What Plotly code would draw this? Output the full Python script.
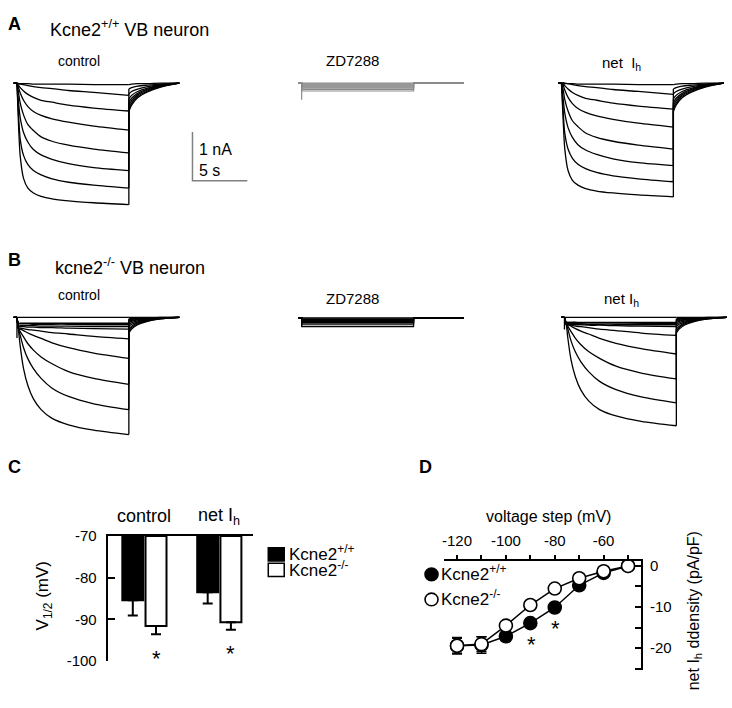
import plotly.graph_objects as go

W, H = 732, 708
FONT = "Liberation Sans, Arial, Helvetica, sans-serif"

# ---------------- Panels A / B : current traces (nA vs s) ----------------
T_PRE = -0.3
T_STEP = [0, 0.15, 0.3, 0.6, 1.0, 1.5, 2.2, 3.2, 4.7, 7.0, 10.2]
T_TAIL = [10.2, 10.45, 11.0, 11.9, 13.1, 14.8]

A_CTRL_STEP = [
    [0, -0.01, -0.01, -0.01, -0.01, -0.02, -0.02, -0.02, -0.02, -0.03, -0.03],
    [0, -0.01, -0.02, -0.03, -0.05, -0.07, -0.09, -0.11, -0.15, -0.19, -0.25],
    [0, -0.05, -0.09, -0.16, -0.23, -0.29, -0.35, -0.39, -0.45, -0.51, -0.57],
    [0, -0.10, -0.20, -0.35, -0.48, -0.58, -0.66, -0.73, -0.80, -0.88, -0.96],
    [0, -0.21, -0.41, -0.65, -0.85, -0.97, -1.10, -1.19, -1.27, -1.35, -1.43],
    [0, -0.41, -0.71, -1.01, -1.21, -1.36, -1.47, -1.56, -1.65, -1.73, -1.79],
    [0, -0.68, -1.15, -1.48, -1.67, -1.79, -1.88, -1.96, -2.03, -2.09, -2.15],
    [0, -0.90, -1.50, -1.95, -2.15, -2.25, -2.32, -2.37, -2.41, -2.45, -2.49],
]
A_CTRL_TAIL = [
    [-0.03, -0.02, -0.01, -0.01, 0.00, 0],
    [-0.12, -0.09, -0.06, -0.04, -0.02, 0],
    [-0.22, -0.17, -0.12, -0.07, -0.03, 0],
    [-0.32, -0.25, -0.17, -0.10, -0.04, 0],
    [-0.40, -0.31, -0.21, -0.12, -0.05, 0],
    [-0.46, -0.36, -0.24, -0.14, -0.06, 0],
    [-0.52, -0.41, -0.27, -0.16, -0.07, 0],
    [-0.58, -0.45, -0.30, -0.18, -0.08, 0],
]
A_ZD = [0, -0.02, -0.04, -0.06, -0.08, -0.10, -0.13, -0.16]
A_ZD_SPIKE = -0.34

B_CTRL_STEP = [
    [0, 0, 0, 0, 0, 0, 0, 0, 0, 0, 0],
    [0, -0.12, -0.12, -0.12, -0.12, -0.12, -0.12, -0.12, -0.12, -0.12, -0.12],
    [0, -0.13, -0.13, -0.13, -0.13, -0.14, -0.14, -0.14, -0.14, -0.15, -0.15],
    [0, -0.17, -0.17, -0.17, -0.17, -0.17, -0.18, -0.18, -0.18, -0.19, -0.19],
    [0, -0.19, -0.19, -0.19, -0.20, -0.20, -0.21, -0.21, -0.22, -0.23, -0.24],
    [0, -0.22, -0.22, -0.23, -0.25, -0.26, -0.28, -0.31, -0.34, -0.39, -0.44],
    [0, -0.23, -0.24, -0.27, -0.32, -0.37, -0.43, -0.52, -0.62, -0.73, -0.84],
    [0, -0.23, -0.29, -0.40, -0.54, -0.67, -0.81, -0.95, -1.11, -1.25, -1.37],
    [0, -0.25, -0.37, -0.62, -0.85, -1.05, -1.25, -1.45, -1.62, -1.77, -1.89],
    [0, -0.29, -0.59, -1.05, -1.40, -1.67, -1.89, -2.07, -2.20, -2.31, -2.40],
]
B_CTRL_TAIL = [
    [0, 0, 0, 0, 0, 0],
    [-0.03, -0.02, -0.02, -0.01, 0.00, 0],
    [-0.05, -0.04, -0.03, -0.02, -0.01, 0],
    [-0.08, -0.06, -0.04, -0.02, -0.01, 0],
    [-0.11, -0.08, -0.05, -0.03, -0.01, 0],
    [-0.15, -0.11, -0.07, -0.04, -0.01, 0],
    [-0.19, -0.14, -0.09, -0.05, -0.02, 0],
    [-0.24, -0.18, -0.11, -0.06, -0.02, 0],
    [-0.28, -0.21, -0.13, -0.07, -0.03, 0],
    [-0.32, -0.24, -0.15, -0.08, -0.03, 0],
]
B_ZD = [0, -0.02, -0.03, -0.04, -0.05, -0.07, -0.09, -0.11, -0.14, -0.18]
B_CTRL_SPIKE = -0.42
B_ZD_SPIKE = -0.17

SCALE_T0, SCALE_I0 = 16.0, -1.0   # scale bar corner (s, nA)
SCALE_NA, SCALE_S = 1.0, 5.0

# ---------------- Panel C : V1/2 ----------------
C_GROUPS = ["control", "net I<sub>h</sub>"]
C_BASE = -70
C_TICKS = [-100, -90, -80, -70]
C_WT_MEAN = [-85.4, -83.5]
C_WT_SEM = [3.7, 2.7]
C_KO_MEAN = [-91.6, -90.7]
C_KO_SEM = [2.0, 1.8]

# ---------------- Panel D : density vs voltage ----------------
V_STEPS = [-120, -110, -100, -90, -80, -70, -60, -50]
WT_MEAN = [-19.4, -19.2, -17.1, -13.9, -10.1, -4.7, -1.7, 0.0]
WT_SEM = [2.0, 2.0, 1.0, 0.7, 0.6, 0.5, 0.4, 0.3]
KO_MEAN = [-19.4, -19.0, -14.5, -9.5, -5.5, -3.0, -1.3, 0.0]
KO_SEM = [1.8, 1.8, 0.9, 0.8, 0.6, 0.5, 0.4, 0.3]
SIG_V = [-90, -80]

# ------------------------------------------------------------------
PX_S, PX_NA = 11.0, 50.0
T_MIN, T_MAX, I_MIN, I_MAX = -0.6, 15.2, -2.7, 0.2


def xd(p0, p1):
    return [p0 / W, p1 / W]


def yd(top, bot):
    return [1 - bot / H, 1 - top / H]


def trace_dom(ox, oy, tmax=T_MAX):
    return (xd(ox + T_MIN * PX_S, ox + tmax * PX_S),
            yd(oy - I_MAX * PX_NA, oy - I_MIN * PX_NA))


fig = go.Figure()
LW = 1.3


def add_sweeps(step_rows, tail_rows, ax, color="black", spike=None):
    xs, ys, xt, yt, xc, yc = [], [], [], [], [], []
    for st, tl in zip(step_rows, tail_rows):
        xs += T_STEP + [None]
        ys += list(st) + [None]
        xt += T_TAIL + [None]
        yt += list(tl) + [None]
        xc += [T_PRE, T_STEP[0], None, T_STEP[-1], T_TAIL[0], None]
        yc += [0, 0, None, st[-1], tl[0], None]
    if spike is not None:
        xc += [T_STEP[0], T_STEP[0], None]
        yc += [0, spike, None]
    common = dict(xaxis="x" + ax, yaxis="y" + ax, mode="lines",
                  hoverinfo="skip", showlegend=False)
    fig.add_trace(go.Scatter(x=xs, y=ys, line=dict(color=color, width=LW, shape="spline", smoothing=0.8), **common))
    fig.add_trace(go.Scatter(x=xt, y=yt, line=dict(color=color, width=LW, shape="spline", smoothing=0.8), **common))
    fig.add_trace(go.Scatter(x=xc, y=yc, line=dict(color=color, width=LW), **common))


def add_zd(levels, ax, color, spike):
    xs, ys = [], []
    for lv in levels:
        xs += [T_PRE, T_STEP[0], T_STEP[0], T_STEP[-1], T_STEP[-1], T_TAIL[-1], None]
        ys += [0, 0, lv, lv, 0, 0, None]
    xs += [T_STEP[0], T_STEP[0], None]
    ys += [0, spike, None]
    fig.add_trace(go.Scatter(x=xs, y=ys, xaxis="x" + ax, yaxis="y" + ax, mode="lines",
                             line=dict(color=color, width=1.2), hoverinfo="skip", showlegend=False))


def net_rows(ctrl, zd):
    return [[row[0]] + [v - z for v in row[1:]] for row, z in zip(ctrl, zd)]


# A
add_sweeps(A_CTRL_STEP, A_CTRL_TAIL, "")
add_zd(A_ZD, "2", "#8a8a8a", A_ZD_SPIKE)
add_sweeps(net_rows(A_CTRL_STEP, A_ZD), A_CTRL_TAIL, "3")
# B
add_sweeps(B_CTRL_STEP, B_CTRL_TAIL, "4", spike=B_CTRL_SPIKE)
add_zd(B_ZD, "5", "black", B_ZD_SPIKE)
add_sweeps(net_rows(B_CTRL_STEP, B_ZD), B_CTRL_TAIL, "6", spike=B_CTRL_SPIKE - B_ZD_SPIKE)

# scale bar (in panel A control units)
fig.add_trace(go.Scatter(
    x=[SCALE_T0, SCALE_T0, SCALE_T0 + SCALE_S],
    y=[SCALE_I0, SCALE_I0 - SCALE_NA, SCALE_I0 - SCALE_NA],
    xaxis="x", yaxis="y", mode="lines", line=dict(color="#808080", width=1.5),
    hoverinfo="skip", showlegend=False))

# C bars
OFF, BW = 0.155, 0.28
cx = list(range(len(C_GROUPS)))
for means, sems, fill, sgn in [(C_WT_MEAN, C_WT_SEM, "black", -1), (C_KO_MEAN, C_KO_SEM, "white", 1)]:
    xx = [i + sgn * OFF for i in cx]
    fig.add_trace(go.Bar(x=xx, y=[m - C_BASE for m in means], base=C_BASE, width=BW,
                         marker=dict(color=fill, line=dict(color="black", width=2)),
                         xaxis="x7", yaxis="y7", showlegend=False, hoverinfo="skip"))
    fig.add_trace(go.Scatter(x=xx, y=means, mode="markers", marker=dict(size=1, color="rgba(0,0,0,0)"),
                             error_y=dict(type="data", symmetric=False, array=[0] * len(sems), arrayminus=sems,
                                          color="black", thickness=2, width=5),
                             xaxis="x7", yaxis="y7", showlegend=False, hoverinfo="skip", cliponaxis=False))

# D lines
for means, sems, fill in [(WT_MEAN, WT_SEM, "black"), (KO_MEAN, KO_SEM, "white")]:
    fig.add_trace(go.Scatter(x=V_STEPS, y=means, mode="lines+markers",
                             line=dict(color="black", width=1.5),
                             marker=dict(size=13, color=fill, line=dict(color="black", width=1.6)),
                             error_y=dict(type="data", array=sems, color="black", thickness=1.5, width=5),
                             xaxis="x8", yaxis="y8", showlegend=False, hoverinfo="skip", cliponaxis=False))

# ------------------------------------------------------------------
hidden = dict(visible=False, fixedrange=True)
layout_axes = {}
panels = [
    ("", 15, 76, 22.0), ("2", 300.5, 76, T_MAX), ("3", 561, 76, T_MAX),
    ("4", 15, 316, T_MAX), ("5", 300.5, 316.5, T_MAX), ("6", 564, 316, T_MAX),
]
for ax, ox, oy, tmax in panels:
    xdm, ydm = trace_dom(ox, oy, tmax)
    n = ax if ax else ""
    layout_axes["xaxis" + n] = dict(domain=xdm, range=[T_MIN, tmax], anchor="y" + n, **hidden)
    layout_axes["yaxis" + n] = dict(domain=ydm, range=[I_MIN, I_MAX], anchor="x" + n, **hidden)

tickfont = dict(family=FONT, size=15, color="black")
layout_axes["xaxis7"] = dict(domain=xd(106, 251.7), range=[-0.49, 1.45], anchor="y7", side="top",
                             showline=True, linewidth=2, linecolor="black", ticks="", showticklabels=False,
                             showgrid=False, zeroline=False, fixedrange=True)
layout_axes["yaxis7"] = dict(domain=yd(540, 668), range=[-100, -70], anchor="x7",
                             tickvals=C_TICKS, ticktext=[str(v) for v in C_TICKS],
                             ticks="inside", ticklen=7, tickwidth=2,
                             tickcolor="black", showline=True, linewidth=2, linecolor="black",
                             showgrid=False, zeroline=False, tickfont=tickfont, ticklabelstandoff=6,
                             fixedrange=True)
layout_axes["xaxis8"] = dict(domain=xd(443.3, 641), range=[-125.3, -44.6], anchor="y8", side="top",
                             tickvals=V_STEPS,
                             ticktext=[str(v) if v % 20 == 0 else "" for v in V_STEPS],
                             ticks="outside", ticklen=5, tickwidth=1.5, tickcolor="black",
                             showline=True, linewidth=1.5, linecolor="black", showgrid=False,
                             zeroline=False, tickfont=tickfont, ticklabelstandoff=3, fixedrange=True)
D_YTICKS = [-25, -20, -15, -10, -5, 0]
layout_axes["yaxis8"] = dict(domain=yd(566, 677.7), range=[-25.4, 1.1], anchor="x8", side="right",
                             tickvals=D_YTICKS,
                             ticktext=[str(v) if v % 10 == 0 else "" for v in D_YTICKS],
                             ticks="inside", ticklen=6, tickwidth=1.5, tickcolor="black",
                             showline=True, linewidth=1.5, linecolor="black", showgrid=False,
                             zeroline=False, tickfont=tickfont, ticklabelstandoff=4, fixedrange=True)


def ann(text, x, y, size, xanchor="left", yanchor="middle", angle=0):
    return dict(text=text, x=x / W, y=1 - y / H, xref="paper", yref="paper", showarrow=False,
                xanchor=xanchor, yanchor=yanchor, textangle=angle,
                font=dict(family=FONT, size=size, color="black"))


annotations = [
    ann("<b>A</b>", 4, 15.5, 18),
    ann("Kcne2<sup>+/+</sup> VB neuron", 46, 20, 18),
    ann("control", 77.5, 53.5, 14, "center"),
    ann("ZD7288", 351, 53, 15, "center"),
    ann("net  I<sub>h</sub>", 621, 56, 15, "center"),
    ann("<b>B</b>", 4, 257.5, 18),
    ann("kcne2<sup>-/-</sup> VB neuron", 51, 264, 18),
    ann("control", 77, 293.5, 14, "center"),
    ann("ZD7288", 351, 297, 15, "center"),
    ann("net I<sub>h</sub>", 621, 298, 15, "center"),
    ann("<b>C</b>", 4, 469, 18),
    ann("<b>D</b>", 416, 469, 18),
    ann("V<sub>1/2</sub> (mV)", 42, 601, 17, "center", "middle", -90),
    ann("voltage step (mV)", 547.5, 520, 16, "center"),
    ann("net I<sub>h</sub> ddensity (pA/pF)", 694, 617, 16, "center", "middle", -90),
    ann("Kcne2<sup>+/+</sup>", 286, 557, 17),
    ann("Kcne2<sup>-/-</sup>", 286, 574, 17),
    ann("Kcne2<sup>+/+</sup>", 438, 578, 17),
    ann("Kcne2<sup>-/-</sup>", 438, 604, 17),
]
# scale bar labels (panel A control data coords)
for txt, iy in [("1 nA", -1.36), ("5 s", -1.78)]:
    annotations.append(dict(text=txt, x=SCALE_T0 + 0.4, y=iy, xref="x", yref="y", showarrow=False,
                            xanchor="left", yanchor="middle",
                            font=dict(family=FONT, size=16, color="black")))
# C group labels
for i, g in enumerate(C_GROUPS):
    annotations.append(dict(text=g, x=i, y=-70, xref="x7", yref="y7", showarrow=False,
                            xanchor="center", yanchor="middle", yshift=20,
                            font=dict(family=FONT, size=18, color="black")))
# C asterisks
for i, (m, s) in enumerate(zip(C_KO_MEAN, C_KO_SEM)):
    annotations.append(dict(text="*", x=i + OFF, y=m - s - 4.6, xref="x7", yref="y7", showarrow=False,
                            xanchor="center", yanchor="middle", yshift=-5,
                            font=dict(family=FONT, size=22, color="black")))
# D asterisks
for v in SIG_V:
    m = WT_MEAN[V_STEPS.index(v)]
    annotations.append(dict(text="*", x=v + 0.5, y=m - 3.9, xref="x8", yref="y8", showarrow=False,
                            xanchor="center", yanchor="middle", yshift=-5,
                            font=dict(family=FONT, size=22, color="black")))


def rect(x0, y0, x1, y1, fill):
    return dict(type="rect", xref="paper", yref="paper", x0=x0 / W, x1=x1 / W,
                y0=1 - y1 / H, y1=1 - y0 / H, fillcolor=fill, line=dict(color="black", width=1.5))


def circ(cx, cy, r, fill):
    return dict(type="circle", xref="paper", yref="paper", x0=(cx - r) / W, x1=(cx + r) / W,
                y0=1 - (cy + r) / H, y1=1 - (cy - r) / H, fillcolor=fill, line=dict(color="black", width=1.6))


shapes = [
    rect(267, 552, 283, 565.5, "black"),
    rect(267, 568, 283, 581.5, "white"),
    circ(430.7, 579.3, 6.5, "black"),
    circ(430.7, 605, 6.5, "white"),
]

fig.update_layout(width=W, height=H, margin=dict(l=0, r=0, t=0, b=0),
                  paper_bgcolor="white", plot_bgcolor="white", showlegend=False,
                  annotations=annotations, shapes=shapes, **layout_axes)

fig.write_html("out.html", config={"displayModeBar": False},
               post_script="document.body.style.margin='0';document.body.style.padding='0';")
